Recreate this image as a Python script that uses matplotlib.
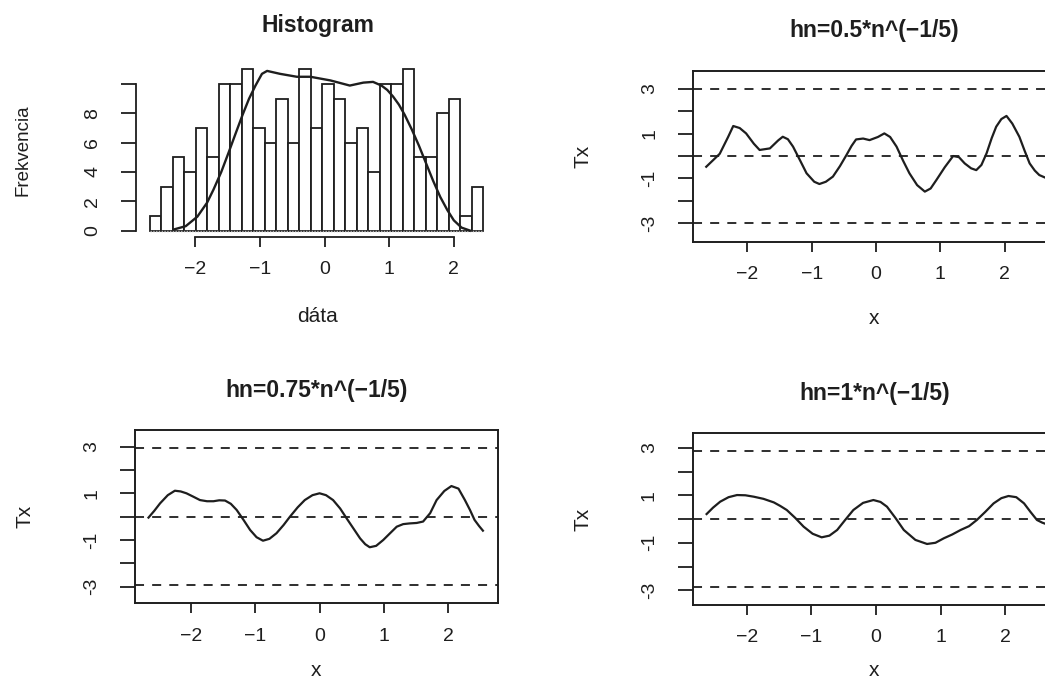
import matplotlib
matplotlib.use("Agg")
import matplotlib.pyplot as plt
import numpy as np

# Histogram counts, one per bin (bins of equal width starting at HIST_START)
HIST_START = -2.706
BIN_WIDTH = 0.178
HIST_COUNTS = [1, 3, 5, 4, 7, 5, 10, 10, 11, 7, 6, 9, 6, 11, 7,
               10, 9, 6, 7, 4, 10, 10, 11, 5, 5, 8, 9, 1, 3]

# Density curve drawn over the histogram (in count units)
DENS_X = [-2.33, -2.15, -1.97, -1.82, -1.72, -1.60, -1.48, -1.38, -1.27, -1.17, -1.07,
          -0.97, -0.89, -0.69, -0.43, -0.22, 0.09, 0.39, 0.60, 0.75, 0.88, 0.97, 1.06,
          1.15, 1.24, 1.35, 1.46, 1.57, 1.68, 1.79, 1.90, 2.00, 2.12, 2.25]
DENS_Y = [0.08, 0.3, 0.95, 1.9, 2.8, 4.0, 5.4, 6.6, 7.9, 9.0, 9.9,
          10.7, 10.9, 10.7, 10.5, 10.5, 10.25, 9.9, 10.1, 10.15, 9.9, 9.6, 9.15,
          8.6, 7.9, 6.9, 5.8, 4.6, 3.4, 2.3, 1.4, 0.7, 0.2, 0.0]

HIST_YTICKS = [0, 2, 4, 6, 8, 10]
HIST_YTICK_LABELS = ["0", "2", "4", "6", "8", ""]
XTICKS = [-2, -1, 0, 1, 2]
XTICK_LABELS = ["\u22122", "\u22121", "0", "1", "2"]
TX_YTICKS = [-3, -2, -1, 0, 1, 2, 3]
TX_YTICK_LABELS = ["-3", "", "-1", "", "1", "", "3"]

# Tx curves for the three bandwidths
TX05_X = [-2.64, -2.43, -2.30, -2.22, -2.12, -2.02, -1.90, -1.81, -1.65, -1.52, -1.45, -1.37,
          -1.29, -1.18, -1.08, -0.96, -0.88, -0.78, -0.67, -0.56, -0.46, -0.38, -0.31, -0.20,
          -0.10, 0.03, 0.13, 0.22, 0.32, 0.42, 0.52, 0.64, 0.76, 0.85, 0.94, 1.07, 1.20,
          1.29, 1.38, 1.48, 1.56, 1.64, 1.72, 1.80, 1.87, 1.95, 2.03, 2.12, 2.23, 2.31,
          2.39, 2.47, 2.54, 2.62]
TX05_Y = [-0.48, 0.10, 0.85, 1.34, 1.25, 1.01, 0.55, 0.27, 0.34, 0.70, 0.86, 0.75,
          0.42, -0.20, -0.77, -1.15, -1.25, -1.15, -0.92, -0.45, 0.04, 0.45, 0.74, 0.78,
          0.71, 0.85, 1.01, 0.85, 0.42, -0.20, -0.77, -1.30, -1.59, -1.45, -1.07, -0.50, 0.0,
          -0.05, -0.33, -0.55, -0.63, -0.40, 0.12, 0.80, 1.31, 1.65, 1.79, 1.45, 0.86, 0.25,
          -0.33, -0.65, -0.85, -0.95]

TX075_X = [-2.66, -2.57, -2.48, -2.36, -2.25, -2.16, -2.07, -1.96, -1.86, -1.75, -1.65,
           -1.56, -1.47, -1.38, -1.29, -1.18, -1.08, -0.98, -0.88, -0.78, -0.67, -0.56,
           -0.46, -0.34, -0.23, -0.11, 0.0, 0.10, 0.21, 0.32, 0.42, 0.53, 0.63, 0.71,
           0.78, 0.88, 0.99, 1.10, 1.20, 1.30, 1.40, 1.51, 1.61, 1.72, 1.82, 1.94, 2.05,
           2.16, 2.26, 2.34, 2.41, 2.48, 2.54]
TX075_Y = [-0.04, 0.25, 0.57, 0.92, 1.11, 1.08, 1.00, 0.85, 0.71, 0.66, 0.66,
           0.70, 0.69, 0.55, 0.29, -0.15, -0.57, -0.88, -1.03, -0.95, -0.71, -0.36,
           0.0, 0.40, 0.71, 0.92, 1.00, 0.92, 0.71, 0.35, -0.07, -0.52, -0.93, -1.18,
           -1.31, -1.25, -1.00, -0.70, -0.43, -0.32, -0.29, -0.27, -0.21, 0.15, 0.71, 1.10, 1.31,
           1.20, 0.71, 0.28, -0.14, -0.40, -0.60]

TX1_X = [-2.62, -2.52, -2.41, -2.28, -2.15, -2.02, -1.89, -1.74, -1.58, -1.48, -1.38,
         -1.25, -1.12, -0.98, -0.84, -0.72, -0.60, -0.48, -0.35, -0.20, -0.04, 0.07,
         0.17, 0.30, 0.43, 0.61, 0.79, 0.92, 1.05, 1.18, 1.31, 1.44, 1.56, 1.69, 1.82,
         1.94, 2.05, 2.17, 2.29, 2.39, 2.49, 2.57, 2.62]
TX1_Y = [0.21, 0.48, 0.73, 0.92, 1.01, 1.00, 0.94, 0.85, 0.70, 0.55, 0.38,
         0.05, -0.32, -0.62, -0.77, -0.70, -0.46, -0.05, 0.38, 0.68, 0.80, 0.72,
         0.52, 0.05, -0.46, -0.88, -1.05, -1.00, -0.81, -0.65, -0.46, -0.30, -0.04, 0.30, 0.66,
         0.88, 0.97, 0.92, 0.66, 0.30, -0.04, -0.15, -0.20]

# Critical value lines drawn in each Tx panel
TX05_BANDS = [-3.0, 0.0, 3.0]
TX075_BANDS = [-2.92, 0.0, 2.92]
TX1_BANDS = [-2.85, 0.0, 2.85]

INK = "#1e1e1e"
FONT = "Liberation Sans"
FIG_W, FIG_H = 1045, 686

def style_ticks(ax):
  ax.tick_params(axis="x", direction="out", length=7.5, width=1.3, pad=10, labelsize=14, colors=INK)
  ax.tick_params(axis="y", direction="out", length=11, width=1.3, pad=14, labelsize=14,
                 labelrotation=90, colors=INK)
  for label in ax.get_yticklabels():
    label.set_verticalalignment("center")

def plot_histogram(ax):
  edges = HIST_START + BIN_WIDTH * np.arange(len(HIST_COUNTS))
  ax.bar(edges, HIST_COUNTS, width=BIN_WIDTH, align="edge", color="white",
         edgecolor=INK, linewidth=1.3, zorder=2)
  ax.hlines(0, edges[0], edges[-1] + BIN_WIDTH, color="#b0b0b0", linewidth=1.0,
            linestyle=(0, (1, 1)), zorder=3)
  ax.plot(DENS_X, DENS_Y, color=INK, linewidth=1.7, zorder=4)

  ax.set_xlim(-2.92, 2.70)
  ax.set_ylim(-0.44, 11.44)
  for side in ("top", "right"):
    ax.spines[side].set_visible(False)
  for side in ("left", "bottom"):
    ax.spines[side].set_linewidth(1.3)
    ax.spines[side].set_color(INK)
  ax.spines["left"].set_bounds(0, 10)
  ax.spines["bottom"].set_bounds(-2, 2)

  ax.set_xticks(XTICKS, XTICK_LABELS)
  ax.set_yticks(HIST_YTICKS, HIST_YTICK_LABELS)
  style_ticks(ax)

  ax.set_title("Histogram", fontsize=16.5, fontweight="bold", pad=22, color=INK)
  ax.set_xlabel("dáta", fontsize=15, color=INK, va="center")
  ax.xaxis.set_label_coords(0.5, -80 / 174)
  ax.set_ylabel("Frekvencia", fontsize=13.5, color=INK, va="center")
  ax.yaxis.set_label_coords(-113 / 363, 0.5)

def plot_tx(ax, title, xs, ys, bands, xlim, ylim, xlabel_drop):
  for level in bands:
    ax.axhline(level, color=INK, linewidth=1.3, linestyle=(0, (5, 4.5)))
  ax.plot(xs, ys, color=INK, linewidth=1.6)

  ax.set_xlim(*xlim)
  ax.set_ylim(*ylim)
  for spine in ax.spines.values():
    spine.set_linewidth(1.4)
    spine.set_color(INK)

  ax.set_xticks(XTICKS, XTICK_LABELS)
  ax.set_yticks(TX_YTICKS, TX_YTICK_LABELS)
  style_ticks(ax)

  height = ax.get_position().height * FIG_H
  width = ax.get_position().width * FIG_W
  ax.set_title(title, fontsize=16.5, fontweight="bold", pad=24, color=INK)
  ax.set_xlabel("x", fontsize=15, color=INK, va="center")
  ax.xaxis.set_label_coords(0.5, -xlabel_drop / height)
  ax.set_ylabel("Tx", fontsize=15, color=INK, va="center")
  ax.yaxis.set_label_coords(-110 / width, 0.5)

def main():
  plt.rcParams["font.family"] = [FONT, "DejaVu Sans"]

  fig = plt.figure(figsize=(FIG_W / 100, FIG_H / 100), dpi=100)

  ax_hist = fig.add_axes([136 / FIG_W, 1 - 237 / FIG_H, 363 / FIG_W, 174 / FIG_H])
  ax_05 = fig.add_axes([693 / FIG_W, 1 - 242 / FIG_H, 363 / FIG_W, 171.3 / FIG_H])
  ax_075 = fig.add_axes([135 / FIG_W, 1 - 603.3 / FIG_H, 362.7 / FIG_W, 173.3 / FIG_H])
  ax_1 = fig.add_axes([692.7 / FIG_W, 1 - 605 / FIG_H, 363 / FIG_W, 171.7 / FIG_H])

  plot_histogram(ax_hist)
  plot_tx(ax_05, "hn=0.5*n^(\u22121/5)", TX05_X, TX05_Y, TX05_BANDS,
          (-2.846, 2.80), (-3.84, 3.81), 76)
  plot_tx(ax_075, "hn=0.75*n^(\u22121/5)", TX075_X, TX075_Y, TX075_BANDS,
          (-2.87, 2.77), (-3.71, 3.71), 67)
  plot_tx(ax_1, "hn=1*n^(\u22121/5)", TX1_X, TX1_Y, TX1_BANDS,
          (-2.835, 2.78), (-3.62, 3.61), 65)

  fig.savefig("out.png", dpi=100, facecolor="white")

if __name__ == "__main__":
  main()
